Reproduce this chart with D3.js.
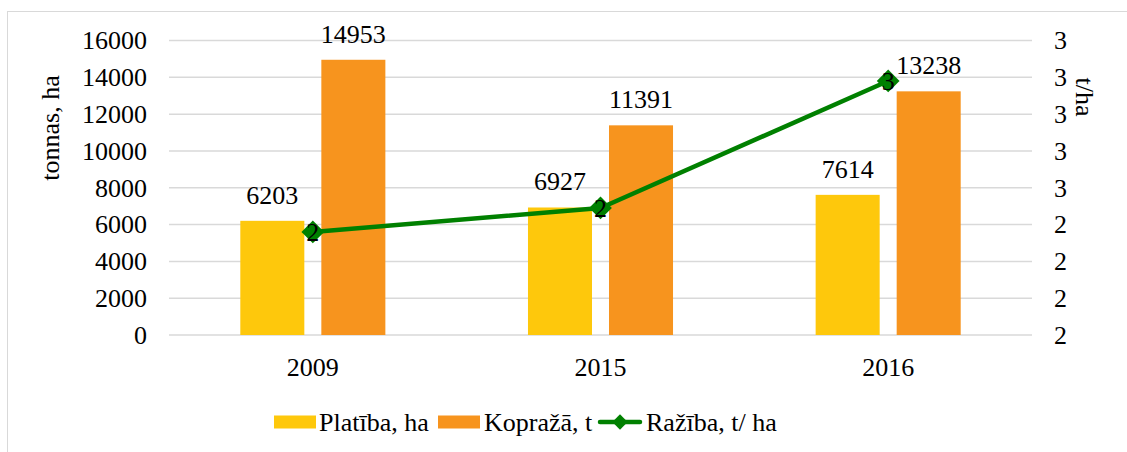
<!DOCTYPE html>
<html>
<head>
<meta charset="utf-8">
<script src="https://cdn.jsdelivr.net/npm/d3@7"></script>
<style>
  body { margin: 0; background: #fff; font-family: "Liberation Serif", serif; }
  text { font-family: "Liberation Serif", "DejaVu Serif", serif !important; }
</style>
</head>
<body>
<div id="chart"></div>
<script>
// data
var years = ["2009", "2015", "2016"];
var seriesNames = ["Platība, ha", "Kopražā, t"];
var platiba = [6203, 6927, 7614];
var kopraza = [14953, 11391, 13238];
var raziba = [2.36, 2.49, 3.18];
var leftTicks = [0, 2000, 4000, 6000, 8000, 10000, 12000, 14000, 16000];
var rightTicks = [1.8, 2.0, 2.2, 2.4, 2.6, 2.8, 3.0, 3.2, 3.4];
var colours = ["#fec80c", "#f7941e"];
var lineColour = "#008000";

var W = 1127, H = 452;
var plot = {left: 169, right: 1032, top: 40.5, bottom: 335};
var fs = 26;
var font = "Liberation Serif";

var svg = d3.select("#chart").append("svg")
    .attr("width", W)
    .attr("height", H)
    .attr("font-family", font);

// outer frame
svg.append("rect")
    .attr("x", 7.5).attr("y", 11.5)
    .attr("width", W + 10).attr("height", H + 10)
    .attr("fill", "none")
    .attr("stroke", "#d9d9d9")
    .attr("stroke-width", 1);

var y = d3.scaleLinear().domain([0, 16000]).range([plot.bottom, plot.top]);
var y2 = d3.scaleLinear().domain([1.8, 3.4]).range([plot.bottom, plot.top]);
var x0 = d3.scaleBand().domain(years).range([plot.left, plot.right]).padding(0);
var x1 = d3.scaleBand().domain(seriesNames).range([0, x0.bandwidth()])
    .paddingInner(0.21).paddingOuter(0.88);

// gridlines
svg.append("g").selectAll("line")
    .data(leftTicks)
    .enter().append("line")
    .attr("x1", plot.left).attr("x2", plot.right)
    .attr("y1", function(d) { return y(d); })
    .attr("y2", function(d) { return y(d); })
    .attr("stroke", "#d9d9d9")
    .attr("stroke-width", 1.5);

// left axis
var leftAxis = svg.append("g")
    .attr("transform", "translate(" + plot.left + ",0)")
    .call(d3.axisLeft(y).tickValues(leftTicks).tickSize(0).tickPadding(22).tickFormat(d3.format("d")));
leftAxis.attr("font-family", font).attr("font-size", fs);
leftAxis.select(".domain").remove();
leftAxis.selectAll("text").attr("fill", "#000");

// right axis
var rightAxis = svg.append("g")
    .attr("transform", "translate(" + plot.right + ",0)")
    .call(d3.axisRight(y2).tickValues(rightTicks).tickSize(0).tickPadding(22).tickFormat(function(d) { return (+d).toFixed(0); }));
rightAxis.attr("font-family", font).attr("font-size", fs);
rightAxis.select(".domain").remove();
rightAxis.selectAll("text").attr("fill", "#000");

// x axis labels
svg.append("g").selectAll("text")
    .data(years)
    .enter().append("text")
    .attr("x", function(d) { return x0(d) + x0.bandwidth() / 2; })
    .attr("y", 376)
    .attr("text-anchor", "middle")
    .attr("font-size", fs)
    .text(function(d) { return d; });

// axis titles
svg.append("text")
    .attr("transform", "translate(59,128) rotate(-90)")
    .attr("text-anchor", "middle")
    .attr("font-size", fs)
    .text("tonnas, ha");

svg.append("text")
    .attr("transform", "translate(1076,97) rotate(90)")
    .attr("text-anchor", "middle")
    .attr("font-size", fs)
    .text("t/ha");

// bars
var barData = years.map(function(yr, i) {
    return {year: yr, values: [
        {name: seriesNames[0], value: platiba[i], colour: colours[0]},
        {name: seriesNames[1], value: kopraza[i], colour: colours[1]}
    ]};
});

var groups = svg.append("g").selectAll("g")
    .data(barData)
    .enter().append("g")
    .attr("transform", function(d) { return "translate(" + x0(d.year) + ",0)"; });

groups.selectAll("rect")
    .data(function(d) { return d.values; })
    .enter().append("rect")
    .attr("x", function(d) { return x1(d.name); })
    .attr("y", function(d) { return y(d.value); })
    .attr("width", x1.bandwidth())
    .attr("height", function(d) { return y(0) - y(d.value); })
    .attr("fill", function(d) { return d.colour; });

groups.selectAll("text")
    .data(function(d) { return d.values; })
    .enter().append("text")
    .attr("x", function(d) { return x1(d.name) + x1.bandwidth() / 2; })
    .attr("y", function(d) { return y(d.value) - 17; })
    .attr("text-anchor", "middle")
    .attr("font-size", fs)
    .text(function(d) { return d.value; });

// line
var pts = years.map(function(yr, i) {
    return {x: x0(yr) + x0.bandwidth() / 2, y: y2(raziba[i]), v: raziba[i]};
});

svg.append("path")
    .datum(pts)
    .attr("d", d3.line().x(function(d) { return d.x; }).y(function(d) { return d.y; }))
    .attr("fill", "none")
    .attr("stroke", lineColour)
    .attr("stroke-width", 4.5)
    .attr("stroke-linejoin", "round");

var diamond = d3.symbol().type(d3.symbolDiamond2).size(330);

svg.append("g").selectAll("path")
    .data(pts)
    .enter().append("path")
    .attr("transform", function(d) { return "translate(" + d.x + "," + d.y + ")"; })
    .attr("d", diamond)
    .attr("fill", lineColour);

svg.append("g").selectAll("text")
    .data(pts)
    .enter().append("text")
    .attr("x", function(d) { return d.x; })
    .attr("y", function(d) { return d.y + 9; })
    .attr("text-anchor", "middle")
    .attr("font-size", fs)
    .text(function(d) { return d.v.toFixed(0); });

// legend
var legend = svg.append("g").attr("transform", "translate(0,422)");

legend.append("rect").attr("x", 274).attr("y", -6.5).attr("width", 42).attr("height", 13).attr("fill", colours[0]);
legend.append("text").attr("x", 319).attr("y", 9).attr("font-size", fs).text(seriesNames[0]);

legend.append("rect").attr("x", 438).attr("y", -6.5).attr("width", 42).attr("height", 13).attr("fill", colours[1]);
legend.append("text").attr("x", 484).attr("y", 9).attr("font-size", fs).text(seriesNames[1]);

legend.append("line").attr("x1", 600).attr("x2", 640).attr("y1", 0).attr("y2", 0)
    .attr("stroke", lineColour).attr("stroke-width", 4.5).attr("stroke-linecap", "round");
legend.append("path").attr("transform", "translate(620,0)")
    .attr("d", d3.symbol().type(d3.symbolDiamond2).size(150)).attr("fill", lineColour);
legend.append("text").attr("x", 646).attr("y", 9).attr("font-size", fs).text("Ražība, t/ ha");
</script>
</body>
</html>
